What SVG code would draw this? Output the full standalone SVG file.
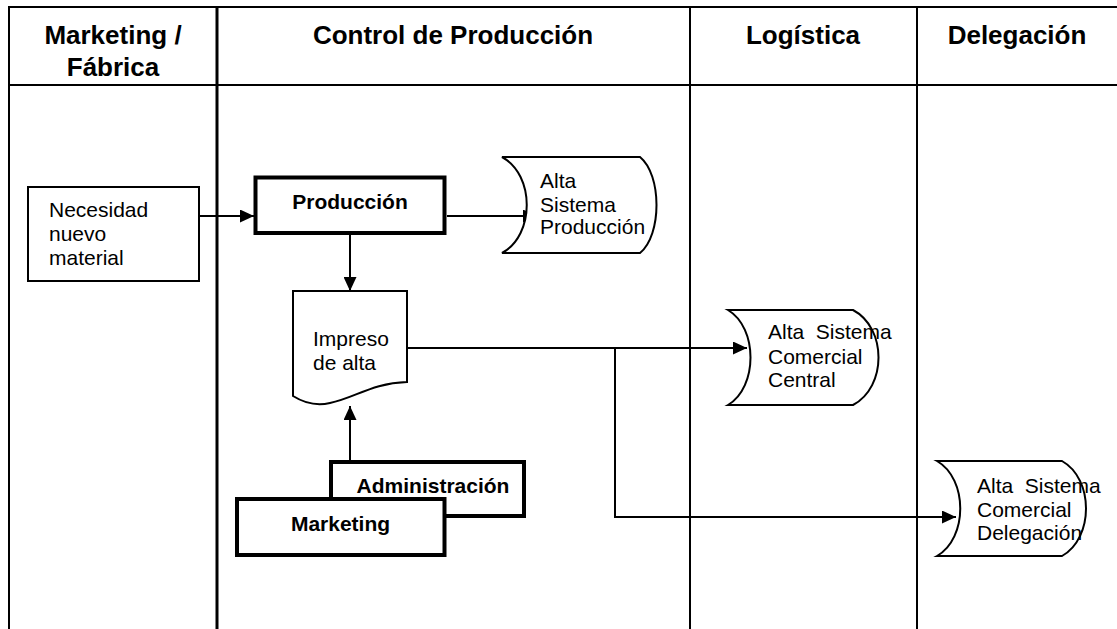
<svg xmlns="http://www.w3.org/2000/svg" width="1117" height="629" viewBox="0 0 1117 629">
  <style>
    .hdr { font-family: "Liberation Sans", Arial, sans-serif; font-size: 26px; font-weight: bold; fill: #000; }
    .txt { font-family: "Liberation Sans", Arial, sans-serif; font-size: 21px; fill: #000; }
    .bold { font-family: "Liberation Sans", Arial, sans-serif; font-size: 21px; font-weight: bold; fill: #000; }
    .box { fill: #fff; stroke: #000; stroke-width: 2; }
    .thick { fill: #fff; stroke: #000; stroke-width: 4; }
    .grid { stroke: #000; stroke-width: 2; fill: none; }
    .conn { stroke: #000; stroke-width: 2; fill: none; }
  </style>
  <defs>
    <marker id="arrow" markerWidth="14" markerHeight="13" refX="14" refY="6.5" orient="auto" markerUnits="userSpaceOnUse">
      <path d="M0,0 L14,6.5 L0,13 Z" fill="#000"/>
    </marker>
  </defs>
  <rect width="1117" height="629" fill="#fff"/>

  <!-- swimlane grid -->
  <g id="lanes">
    <line class="grid" x1="9" y1="7" x2="1117" y2="7"/>
    <line class="grid" x1="9" y1="85" x2="1117" y2="85"/>
    <line class="grid" x1="9" y1="6" x2="9" y2="629"/>
    <line class="grid" x1="217" y1="6" x2="217" y2="629" style="stroke-width:3"/>
    <line class="grid" x1="690" y1="6" x2="690" y2="629"/>
    <line class="grid" x1="917" y1="6" x2="917" y2="629"/>
    <text class="hdr" x="113" y="44" text-anchor="middle">Marketing /</text>
    <text class="hdr" x="113" y="76" text-anchor="middle">Fábrica</text>
    <text class="hdr" x="453" y="44" text-anchor="middle">Control de Producción</text>
    <text class="hdr" x="803" y="44" text-anchor="middle">Logística</text>
    <text class="hdr" x="1017" y="44" text-anchor="middle">Delegación</text>
  </g>

  <!-- connectors -->
  <g id="connectors">
    <line class="conn" x1="199" y1="216" x2="254" y2="216" marker-end="url(#arrow)"/>
    <line class="conn" x1="447" y1="216" x2="537" y2="216" marker-end="url(#arrow)"/>
    <line class="conn" x1="350" y1="235" x2="350" y2="291" marker-end="url(#arrow)"/>
    <line class="conn" x1="407" y1="348" x2="747" y2="348" marker-end="url(#arrow)"/>
    <polyline class="conn" points="615,348 615,517 956,517" marker-end="url(#arrow)"/>
    <line class="conn" x1="350" y1="461" x2="350" y2="406" marker-end="url(#arrow)"/>
  </g>

  <g id="necesidad">
    <rect class="box" x="28" y="187" width="171" height="94"/>
    <text class="txt" x="49" y="217">Necesidad</text>
    <text class="txt" x="49" y="241">nuevo</text>
    <text class="txt" x="49" y="265">material</text>
  </g>

  <g id="produccion">
    <rect class="thick" x="255.5" y="177.5" width="189" height="55.5"/>
    <text class="bold" x="350" y="209" text-anchor="middle">Producción</text>
  </g>

  <g id="alta-sistema-produccion">
    <path class="box" d="M502,157 H640 C662,175 662,235 640,253 H502 C535,235 535,175 502,157 Z"/>
    <text class="txt" x="540" y="188">Alta</text>
    <text class="txt" x="540" y="212">Sistema</text>
    <text class="txt" x="540" y="234">Producción</text>
  </g>

  <g id="impreso">
    <path class="box" d="M293,291 H407 V382 C372,383 355,398 330,403 C313,407 301,401 293,396 Z"/>
    <text class="txt" x="313" y="346">Impreso</text>
    <text class="txt" x="313" y="370">de alta</text>
  </g>

  <g id="alta-comercial-central">
    <path class="box" d="M728,310 H853 C887,328 887,387 853,405 H728 C758,387 758,328 728,310 Z"/>
    <text class="txt" x="768" y="339" xml:space="preserve">Alta  Sistema</text>
    <text class="txt" x="768" y="364">Comercial</text>
    <text class="txt" x="768" y="387">Central</text>
  </g>

  <g id="alta-comercial-delegacion">
    <path class="box" d="M937,461 H1062 C1094,479 1094,538 1062,556 H937 C968,538 968,479 937,461 Z"/>
    <text class="txt" x="977" y="493" xml:space="preserve">Alta  Sistema</text>
    <text class="txt" x="977" y="517">Comercial</text>
    <text class="txt" x="977" y="540">Delegación</text>
  </g>

  <g id="administracion">
    <rect class="thick" x="331" y="462" width="193" height="54"/>
    <text class="bold" x="433" y="493" text-anchor="middle">Administración</text>
  </g>

  <g id="marketing">
    <rect class="thick" x="237" y="499" width="207.5" height="56"/>
    <text class="bold" x="340.5" y="531" text-anchor="middle">Marketing</text>
  </g>
</svg>
